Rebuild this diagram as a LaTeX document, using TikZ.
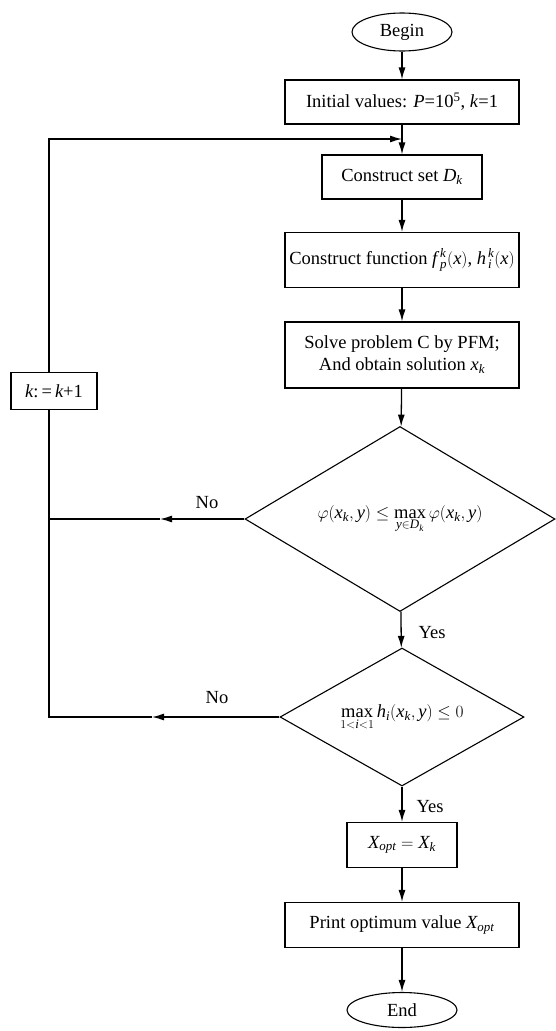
\documentclass[tikz,border=0pt]{standalone}
\usepackage{fontspec}
\setmainfont{Liberation Serif}
\usetikzlibrary{shapes.geometric,arrows.meta}
\newcommand\V[1]{\mathit{#1}}
\begin{document}
\begin{tikzpicture}[x=1pt,y=-1pt,
  font=\fontsize{18.5}{22}\selectfont,
  box/.style={draw,line width=1.1pt,rectangle,inner sep=0pt,align=center},
  term/.style={draw,line width=1.1pt,ellipse,inner sep=0pt},
  dec/.style={draw,line width=1.1pt,diamond,inner sep=0pt},
  arr/.style={line width=1.3pt,-{Latex[length=12pt,width=7pt]}},
  ln/.style={line width=1.3pt},
  lab/.style={inner sep=0pt}]
\useasboundingbox (0,0) rectangle (555,1031);
\node[term,minimum width=100pt,minimum height=38pt] (begin) at (402,32) {Begin};
\node[box,minimum width=234pt,minimum height=44pt] (init) at (402,102) {Initial values: \textit{P}=10\textsuperscript{5}, \textit{k}=1};
\node[box,minimum width=160pt,minimum height=44pt] (dk) at (402,177) {Construct set $\V{D}_{\V{k}}$};
\node[box,minimum width=234pt,minimum height=55pt] (cf) at (402,260) {Construct function $\V{f}\mkern3mu{}_{\V{p}}^{\V{k}}(\V{x})$, $\V{h}\mkern2mu{}_{\V{i}}^{\V{k}}(\V{x})$};
\node[box,minimum width=234pt,minimum height=66pt] (solve) at (402,355) {Solve problem C by PFM;\\And obtain solution $\V{x}_{\V{k}}$};
\node[box,minimum width=86pt,minimum height=37pt] (kk) at (54,391) {$\V{k}$:\,=\,$\V{k}$+1};
\node[dec,minimum width=310pt,minimum height=185pt,aspect=1.68] (d1) at (400,519) {$\varphi(\V{x}_{\V{k}}, \V{y}) \le \max\limits_{\V{y}\in \V{D}_{\V{k}}} \varphi(\V{x}_{\V{k}}, \V{y})$};
\node[dec,minimum width=244pt,minimum height=138pt,aspect=1.77] (d2) at (402,717) {$\max\limits_{1<\V{i}<1} \V{h}_{\V{i}}(\V{x}_{\V{k}}, \V{y}) \le 0$};
\node[box,minimum width=110pt,minimum height=45pt] (xopt) at (402,845) {$\V{X}_{\V{opt}} = \V{X}_{\V{k}}$};
\node[box,minimum width=234pt,minimum height=45pt] (print) at (402,925) {Print optimum value $\V{X}_{\V{opt}}$};
\node[term,minimum width=110pt,minimum height=35pt] (end) at (402,1010) {End};
\node[lab] (yes1) at (432,633) {Yes};
\node[lab] (yes2) at (430,807) {Yes};
\node[lab] (no1) at (207,503) {No};
\node[lab] (no2) at (217,698) {No};
\coordinate (lp) at (49,139);
\coordinate (lj) at (402,139);
\coordinate (n1t) at (160,519);
\coordinate (n1e) at (49,519);
\coordinate (n2t) at (152,717);
\coordinate (n2e) at (49,717);
\draw[arr] (begin) -- (init);
\draw[arr] (init) -- (dk);
\draw[arr] (kk.north -| lp) -- (lp) -- (lj);
\draw[arr] (dk) -- (cf);
\draw[arr] (cf) -- (solve);
\draw[arr] (solve) -- (d1);
\draw[arr] (d1) -- (d2);
\draw[arr] (d2) -- (xopt);
\draw[arr] (xopt) -- (print);
\draw[arr] (print) -- (end);
\draw[arr] (d1.west) -- (n1t);
\draw[ln] (n1t) -- (n1e);
\draw[arr] (d2.west) -- (n2t);
\draw[ln] (n2t) -- (n2e) -- (kk.south -| n2e);
\end{tikzpicture}
\end{document}
